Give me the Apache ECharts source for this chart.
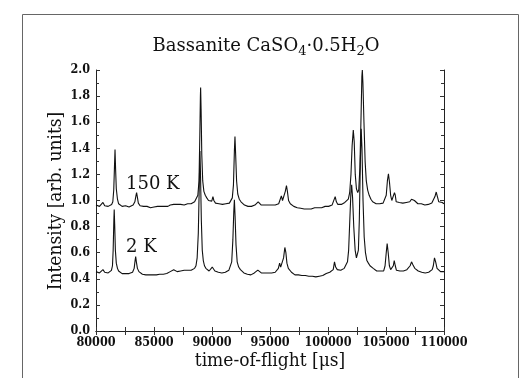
<!DOCTYPE html>
<html>
<head>
<meta charset="utf-8">
<script src="https://cdn.jsdelivr.net/npm/echarts@6/dist/echarts.min.js"></script>
<style>html,body{margin:0;padding:0;background:#fff;}#c{width:520px;height:378px;}</style>
</head>
<body>
<div id="c"></div>
<script>
// time-of-flight [µs], intensity [arb. units]
const series150K = [
[80000,0.965],[80150,0.975],[80300,0.955],[80450,0.97],[80600,0.985],[80750,0.96],[80900,0.97],[81050,0.955],[81200,0.965],[81350,0.97],
[81450,0.99],[81530,1.08],[81590,1.25],[81640,1.39],[81690,1.24],[81750,1.09],[81850,1.01],[81950,0.975],[82100,0.96],[82250,0.955],
[82400,0.95],[82550,0.96],[82700,0.955],[82850,0.95],[83000,0.96],[83200,0.965],[83350,0.99],[83450,1.04],[83500,1.06],[83560,1.03],
[83650,0.98],[83800,0.96],[83950,0.95],[84100,0.955],[84250,0.945],[84400,0.955],[84550,0.95],[84700,0.945],[84850,0.955],[85000,0.95],
[85150,0.945],[85300,0.955],[85450,0.95],[85600,0.955],[85750,0.96],[85900,0.955],[86050,0.96],[86200,0.955],[86400,0.965],[86550,0.975],
[86700,0.97],[86850,0.965],[87000,0.97],[87150,0.965],[87300,0.97],[87450,0.975],[87600,0.965],[87750,0.97],[87900,0.975],[88050,0.98],
[88200,0.975],[88350,0.985],[88500,0.99],[88650,1.0],[88780,1.04],[88880,1.15],[88950,1.5],[89000,1.8],[89020,1.865],[89060,1.7],
[89120,1.35],[89200,1.15],[89300,1.07],[89420,1.04],[89550,1.02],[89700,1.0],[89850,0.99],[89980,0.995],[90080,1.03],[90160,1.0],
[90300,0.98],[90450,0.97],[90600,0.975],[90750,0.965],[90900,0.97],[91050,0.965],[91200,0.975],[91350,0.97],[91500,0.98],[91650,0.99],
[91750,1.02],[91850,1.12],[91930,1.38],[91980,1.49],[92040,1.35],[92120,1.15],[92220,1.05],[92350,1.01],[92500,0.99],[92650,0.975],
[92800,0.965],[92950,0.96],[93100,0.955],[93250,0.96],[93400,0.955],[93550,0.96],[93700,0.965],[93850,0.975],[93980,0.99],[94100,0.975],
[94250,0.965],[94400,0.96],[94550,0.965],[94700,0.96],[94850,0.965],[95000,0.96],[95150,0.965],[95300,0.96],[95450,0.965],[95600,0.97],
[95750,0.975],[95880,0.99],[95980,1.035],[96080,1.0],[96200,1.01],[96320,1.07],[96420,1.115],[96500,1.07],[96600,1.0],[96750,0.975],
[96900,0.96],[97050,0.955],[97200,0.95],[97350,0.945],[97500,0.95],[97650,0.94],[97800,0.945],[97950,0.935],[98100,0.94],[98250,0.935],
[98400,0.945],[98550,0.935],[98700,0.94],[98850,0.945],[99000,0.94],[99150,0.945],[99300,0.95],[99450,0.945],[99600,0.95],[99750,0.955],
[99900,0.95],[100050,0.955],[100200,0.96],[100350,0.965],[100500,0.98],[100620,1.03],[100720,0.99],[100850,0.97],[101000,0.975],[101150,0.97],
[101300,0.98],[101450,0.985],[101600,0.99],[101750,1.01],[101870,1.06],[101980,1.2],[102080,1.42],[102180,1.54],[102260,1.45],[102350,1.2],
[102450,1.09],[102560,1.06],[102650,1.08],[102750,1.25],[102850,1.65],[102920,1.95],[102960,2.0],[103010,1.9],[103100,1.6],[103200,1.3],
[103300,1.15],[103420,1.08],[103550,1.04],[103700,1.01],[103850,0.99],[104000,0.98],[104150,0.975],[104300,0.97],[104450,0.975],[104600,0.97],
[104750,0.98],[104900,0.99],[105020,1.04],[105120,1.15],[105210,1.205],[105300,1.14],[105400,1.04],[105500,1.0],[105620,0.995],[105730,1.06],
[105800,1.04],[105880,0.99],[106000,0.98],[106150,0.985],[106300,0.975],[106450,0.98],[106600,0.99],[106750,0.985],[106900,0.995],[107050,0.99],
[107200,1.01],[107320,1.02],[107450,1.0],[107600,0.985],[107750,0.975],[107900,0.97],[108050,0.975],[108200,0.97],[108350,0.965],[108500,0.975],
[108650,0.97],[108800,0.975],[108950,0.98],[109100,0.99],[109220,1.03],[109330,1.065],[109430,1.03],[109550,0.99],[109700,0.98],[109850,0.985],
[110000,0.975]
];
const series2K = [
[80000,0.455],[80150,0.465],[80300,0.445],[80450,0.46],[80600,0.47],[80750,0.45],[80900,0.46],[81050,0.445],[81200,0.455],[81330,0.465],
[81420,0.5],[81480,0.62],[81540,0.85],[81570,0.93],[81610,0.82],[81670,0.62],[81750,0.52],[81850,0.48],[81950,0.46],[82100,0.45],
[82250,0.44],[82400,0.445],[82550,0.44],[82700,0.445],[82850,0.44],[83000,0.445],[83150,0.45],[83290,0.48],[83370,0.54],[83420,0.57],
[83480,0.53],[83570,0.48],[83700,0.455],[83850,0.445],[84000,0.435],[84150,0.44],[84300,0.43],[84450,0.435],[84600,0.43],[84750,0.44],
[84900,0.43],[85050,0.435],[85200,0.43],[85350,0.44],[85500,0.435],[85650,0.44],[85800,0.435],[85950,0.445],[86100,0.44],[86250,0.45],
[86400,0.455],[86550,0.465],[86700,0.47],[86850,0.46],[87000,0.455],[87150,0.465],[87300,0.46],[87450,0.455],[87600,0.465],[87750,0.46],
[87900,0.465],[88050,0.47],[88200,0.465],[88350,0.475],[88500,0.48],[88620,0.5],[88720,0.56],[88820,0.75],[88900,1.1],[88960,1.38],
[89010,1.2],[89080,0.85],[89160,0.62],[89250,0.54],[89350,0.5],[89470,0.48],[89600,0.47],[89750,0.46],[89900,0.465],[90020,0.49],
[90100,0.475],[90250,0.46],[90400,0.455],[90550,0.45],[90700,0.455],[90850,0.445],[91000,0.455],[91150,0.45],[91300,0.46],[91450,0.465],
[91580,0.48],[91700,0.53],[91800,0.7],[91880,0.92],[91930,1.005],[91990,0.88],[92070,0.66],[92170,0.53],[92300,0.49],[92450,0.47],
[92600,0.455],[92750,0.445],[92900,0.44],[93050,0.435],[93200,0.44],[93350,0.43],[93500,0.435],[93650,0.445],[93800,0.455],[93950,0.467],
[94100,0.455],[94250,0.445],[94400,0.44],[94550,0.445],[94700,0.435],[94850,0.445],[95000,0.44],[95150,0.445],[95300,0.44],[95450,0.45],
[95600,0.455],[95720,0.48],[95830,0.52],[95920,0.49],[96050,0.5],[96170,0.56],[96280,0.64],[96370,0.6],[96460,0.52],[96580,0.48],
[96700,0.465],[96850,0.45],[97000,0.44],[97150,0.43],[97300,0.425],[97450,0.43],[97600,0.42],[97750,0.425],[97900,0.415],[98050,0.425],
[98200,0.415],[98350,0.42],[98500,0.41],[98650,0.42],[98800,0.425],[98950,0.415],[99100,0.425],[99250,0.42],[99400,0.43],[99550,0.425],
[99700,0.435],[99850,0.44],[100000,0.445],[100150,0.45],[100300,0.455],[100450,0.47],[100560,0.53],[100660,0.49],[100800,0.47],[100950,0.475],
[101100,0.465],[101250,0.475],[101400,0.48],[101550,0.49],[101680,0.53],[101780,0.62],[101880,0.85],[101970,1.05],[102040,1.12],[102120,1.02],
[102220,0.8],[102340,0.62],[102450,0.56],[102540,0.557],[102620,0.62],[102700,0.85],[102790,1.3],[102860,1.55],[102930,1.4],[103020,1.0],
[103120,0.72],[103230,0.6],[103350,0.54],[103480,0.52],[103620,0.5],[103750,0.485],[103900,0.48],[104050,0.47],[104200,0.46],[104350,0.455],
[104500,0.46],[104650,0.45],[104800,0.46],[104920,0.5],[105020,0.6],[105100,0.67],[105190,0.6],[105290,0.5],[105400,0.47],[105520,0.475],
[105630,0.5],[105710,0.54],[105800,0.5],[105900,0.465],[106050,0.455],[106200,0.46],[106350,0.45],[106500,0.46],[106650,0.465],[106800,0.47],
[106950,0.48],[107080,0.5],[107200,0.53],[107330,0.505],[107480,0.48],[107630,0.465],[107780,0.46],[107930,0.455],[108080,0.45],[108230,0.455],
[108380,0.445],[108530,0.455],[108680,0.45],[108830,0.46],[108980,0.47],[109080,0.5],[109180,0.56],[109280,0.53],[109400,0.48],[109550,0.47],
[109700,0.455],[109850,0.465],[110000,0.455]
];
const seriesNames = ['150 K', '2 K'];
const xRange = [80000, 110000];
const yRange = [0, 2.0];

const chart = echarts.init(document.getElementById('c'), null, {renderer: 'canvas'});
const labelFont = {fontFamily: 'DejaVu Serif Condensed', fontWeight: 'bold', fontSize: 12.5, color: '#111'};
const axisLine = {show: true, lineStyle: {color: '#222', width: 1}};
function mkX(pos, showLabel) {
  return {type: 'value', position: pos, min: xRange[0], max: xRange[1], interval: 5000,
    axisLine: axisLine, splitLine: {show: false},
    axisTick: {show: true, inside: true, length: 4, lineStyle: {color: '#333'}},
    minorTick: {show: true, splitNumber: 2, length: 4, lineStyle: {color: '#333'}},
    axisLabel: Object.assign({show: showLabel, margin: 5, formatter: v => String(v)}, labelFont)};
}
function mkY(pos, showLabel) {
  return {type: 'value', position: pos, min: yRange[0], max: yRange[1], interval: 0.2,
    axisLine: axisLine, splitLine: {show: false},
    axisTick: {show: true, inside: true, length: 4, lineStyle: {color: '#333'}},
    minorTick: {show: true, splitNumber: 2, length: 3, lineStyle: {color: '#333'}},
    axisLabel: Object.assign({show: showLabel, margin: 6, formatter: v => v.toFixed(1)}, labelFont)};
}
chart.setOption({
  backgroundColor: '#fff',
  animation: false,
  grid: {left: 96, right: 76, top: 70, bottom: 47},
  xAxis: [mkX('bottom', true), mkX('top', false)],
  yAxis: [mkY('left', true), mkY('right', false)],
  series: [
    {name: seriesNames[0], type: 'line', data: series150K, showSymbol: false, clip: true,
     lineStyle: {color: '#111', width: 1.1}},
    {name: seriesNames[1], type: 'line', data: series2K, showSymbol: false, clip: true,
     lineStyle: {color: '#111', width: 1.1}}
  ],
  graphic: [
    {type: 'rect', shape: {x: 22.5, y: 14.5, width: 496, height: 400}, style: {fill: 'none', stroke: '#666', lineWidth: 1}, silent: true},
    {type: 'text', x: 266, y: 46, style: {
      text: '{a|Bassanite CaSO}{s|4}{a|·0.5H}{s|2}{a|O}', align: 'center', verticalAlign: 'middle',
      rich: {a: {fontFamily: 'DejaVu Serif', fontSize: 18, lineHeight: 24, fill: '#111'},
             s: {fontFamily: 'DejaVu Serif', fontSize: 13, lineHeight: 13, verticalAlign: 'bottom', fill: '#111'}}}},
    {type: 'text', x: 126, y: 184, style: {text: seriesNames[0], fontFamily: 'DejaVu Serif', fontSize: 18, fill: '#111', align: 'left', verticalAlign: 'middle'}},
    {type: 'text', x: 126, y: 247, style: {text: seriesNames[1], fontFamily: 'DejaVu Serif', fontSize: 18, fill: '#111', align: 'left', verticalAlign: 'middle'}},
    {type: 'text', x: 270, y: 361, style: {text: 'time-of-flight [\u03bcs]', fontFamily: 'DejaVu Serif Condensed', fontSize: 19, fill: '#111', align: 'center', verticalAlign: 'middle'}},
    {type: 'text', x: 56, y: 201, rotation: Math.PI / 2, style: {text: 'Intensity [arb. units]', fontFamily: 'DejaVu Serif Condensed', fontSize: 19, fill: '#111', align: 'center', verticalAlign: 'middle'}}
  ]
});
</script>
</body>
</html>
